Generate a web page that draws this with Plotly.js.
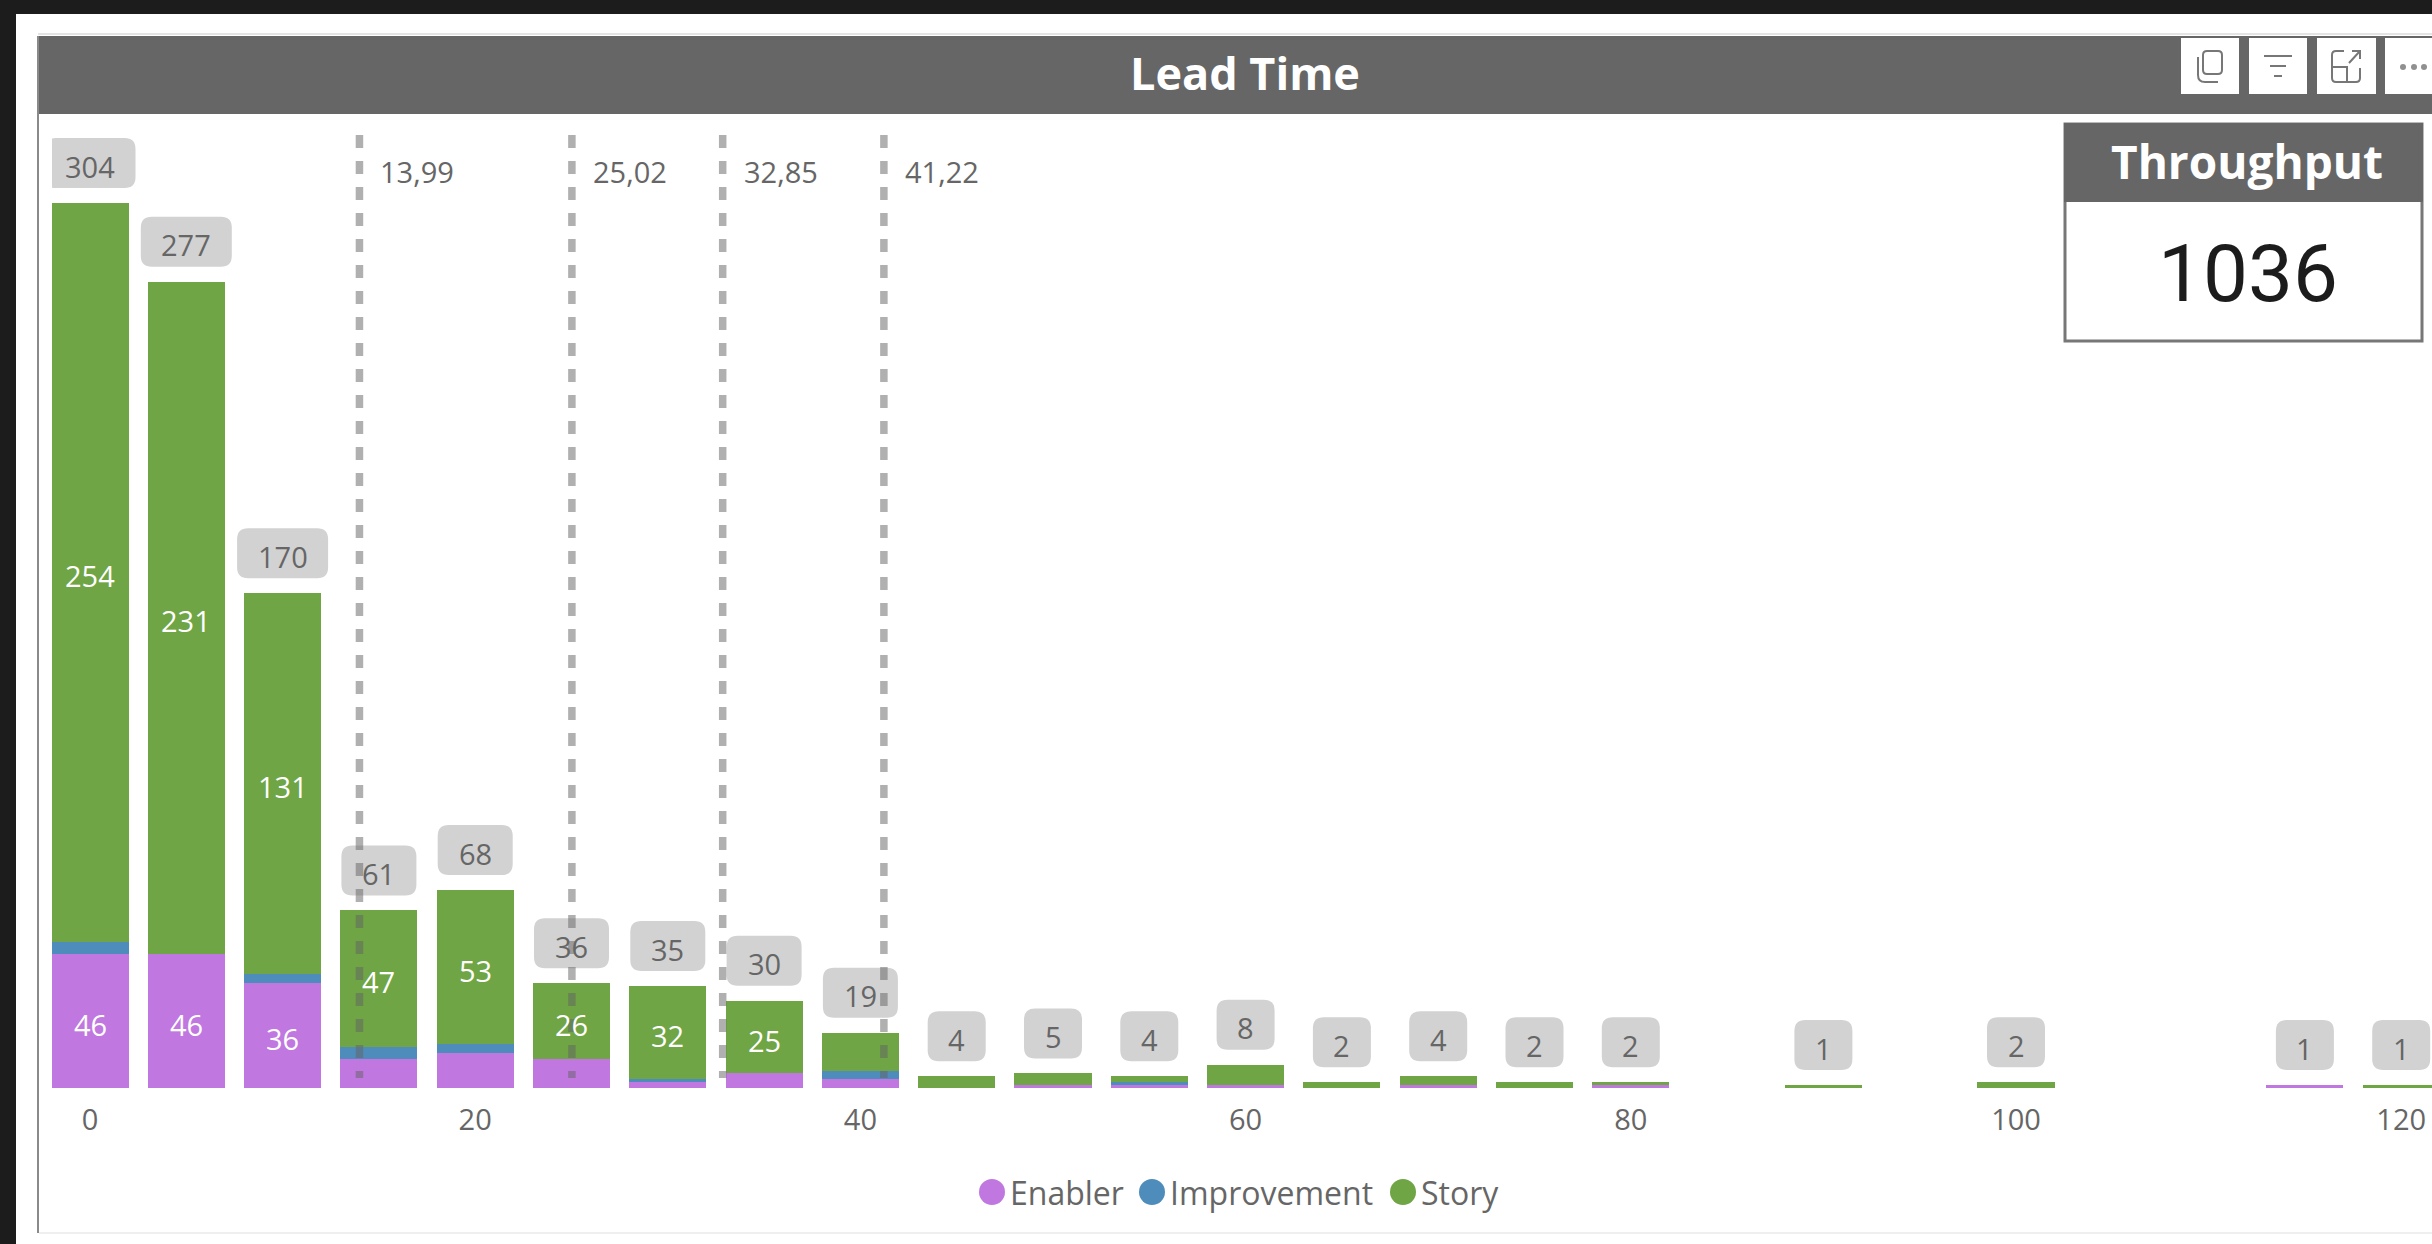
<!DOCTYPE html>
<html><head><meta charset="utf-8">
<script src="https://cdn.plot.ly/plotly-3.0.1.min.js"></script>
<style>html,body{margin:0;padding:0;background:#fff;overflow:hidden}#c{width:2432px;height:1244px}</style>
</head><body><div id="c"></div>
<script>
const bins = [0,5,10,15,20,25,30,35,40,45,50,55,60,65,70,75,80,90,100,115,120];
const enabler =     [46,46,36,10,12,10,2,5,3,0,1,1,1,0,1,0,1,0,0,1,0];
const improvement = [4,0,3,4,3,0,1,0,3,0,0,1,0,0,0,0,0,0,0,0,0];
const story =       [254,231,131,47,53,26,32,25,13,4,4,2,7,2,3,2,1,1,2,0,1];
const totals =      [304,277,170,61,68,36,35,30,19,4,5,4,8,2,4,2,2,1,2,1,1];
const percentiles = [13.99,25.02,32.85,41.22];
const percentileLabels = ["13,99","25,02","32,85","41,22"];
const seriesNames = ["Enabler","Improvement","Story"];
const seriesColors = ["#C077E0","#4E8DBB","#6FA544"];
const xTicks = [0,20,40,60,80,100,120];

const W=2432,H=1244,L=52,R=W,T=114,B=1088;
const pxPerX=19.26, pxPerY=2.911, x0px=90;
const xRange=[(L-x0px)/pxPerX,(R-x0px)/pxPerX], yRange=[0,(B-T)/pxPerY];
const fx=x=>(x-L)/(R-L), fy=y=>(B-y)/(B-T);
const FONT='"Open Sans", sans-serif', GREY='#666666';

const rect=(x0,y0,x1,y1,fill,line,lw)=>({type:'rect',xref:'paper',yref:'paper',layer:'above',
  x0:fx(x0),x1:fx(x1),y0:fy(y0),y1:fy(y1),fillcolor:fill,line:{color:line||fill,width:lw||0}});
const icon=(cx,cy,path,color,w,fill)=>({type:'path',xref:'paper',yref:'paper',layer:'above',
  xsizemode:'pixel',ysizemode:'pixel',xanchor:fx(cx),yanchor:fy(cy),path,
  fillcolor:fill||'rgba(0,0,0,0)',line:{color:color||'#777',width:w===undefined?2:w}});
const rr=(x0,y0,x1,y1,r)=>`M${x0+r},${y0} L${x1-r},${y0} Q${x1},${y0} ${x1},${y0+r} L${x1},${y1-r} Q${x1},${y1} ${x1-r},${y1} L${x0+r},${y1} Q${x0},${y1} ${x0},${y1-r} L${x0},${y0+r} Q${x0},${y0} ${x0+r},${y0} Z`;

const barTrace=(i,vals)=>({type:'bar',name:seriesNames[i],x:bins,y:vals,width:4,offset:-2,
  marker:{color:seriesColors[i],line:{width:0}},showlegend:false,hoverinfo:'skip'});

const lineTraces=percentiles.map(p=>({type:'scatter',mode:'lines',x:[p,p],y:[327.4,3.4],showlegend:false,hoverinfo:'skip',
  line:{color:'rgba(100,100,100,0.51)',width:7.5,dash:'13px,13px'}}));

const data=[barTrace(0,enabler),barTrace(1,improvement),barTrace(2,story),...lineTraces];

// segment value labels, placed at the middle of their stacked segment
const segLabels=[];
bins.forEach((b,i)=>{
  if(enabler[i]>=36) segLabels.push({v:enabler[i],x:b,y:enabler[i]/2});
  if(story[i]>=25) segLabels.push({v:story[i],x:b,y:enabler[i]+improvement[i]+story[i]/2});
});
const segAnn=segLabels.map(s=>({x:s.x,y:s.y,xref:'x',yref:'y',yshift:-3,text:String(s.v),showarrow:false,
  xanchor:'center',yanchor:'middle',font:{family:FONT,size:29,color:'#FFFFFF'}}));

// value boxes: rounded, sized in pixels, anchored on each bar's total
const boxShapes=bins.map((b,i)=>{
  const len=String(totals[i]).length, hw=len===3?45.5:(len===2?37.5:29);
  return {type:'path',xref:'x',yref:'y',layer:'below',xsizemode:'pixel',ysizemode:'pixel',
    xanchor:b,yanchor:totals[i],path:rr(-hw,15,hw,65,11),fillcolor:'#D2D2D2',line:{width:0}};
});
const boxLabels=bins.map((b,i)=>({x:b,y:totals[i],xref:'x',yref:'y',yshift:37,text:String(totals[i]),showarrow:false,
  xanchor:'center',yanchor:'middle',font:{family:FONT,size:29,color:GREY}}));
const pctLabels=percentiles.map((p,i)=>({x:p,y:315,xref:'x',yref:'y',xshift:19,text:percentileLabels[i],showarrow:false,
  xanchor:'left',yanchor:'middle',font:{family:FONT,size:29,color:GREY}}));

const legX=[992,1152,1403];
const legendShapes=seriesNames.map((n,i)=>({type:'circle',xref:'paper',yref:'paper',layer:'above',xsizemode:'pixel',ysizemode:'pixel',
  xanchor:fx(legX[i]),yanchor:fy(1192),x0:-13,x1:13,y0:-13,y1:13,fillcolor:seriesColors[i],line:{width:0}}));
const legendLabels=seriesNames.map((n,i)=>({xref:'paper',yref:'paper',x:fx(legX[i]+16),y:fy(1192),text:n,showarrow:false,
  xanchor:'left',yanchor:'middle',font:{family:FONT,size:32,color:GREY}}));

const chrome=[
  rect(0,0,W,14,'#1C1C1C'), rect(0,0,16,H,'#1C1C1C'),
  rect(38,33,W,35,'#E4E4E4'),
  rect(38,36,W,114,'#666666'),
  rect(37,36,39,1233,'#8A8A8A'),
  rect(39,1232,W,1234,'#EFEFEF'),
  rect(2181,38,2239,94,'#FFFFFF'), rect(2249,38,2307,94,'#FFFFFF'),
  rect(2317,38,2376,94,'#FFFFFF'), rect(2385,38,W,94,'#FFFFFF'),
  // visual-header icons
  icon(2210,66,rr(-7,-8,12,15,4)),
  icon(2210,66,'M-12,9 L-12,-9 Q-12,-16 -5,-16 L8,-16'),
  icon(2278,66,'M-14,10 L14,10 M-8,0 L8,0 M-4,-10 L4,-10'),
  icon(2346,66,'M-2,15 L-10,15 Q-14,15 -14,11 L-14,-12 Q-14,-16 -10,-16 L10,-16 Q14,-16 14,-12 L14,-2 M-14,-1 L1,-1 L1,-16 M3,3 L14,15 M6,15 L14,15 L14,7'),
  ...[2403,2414,2424].map(x=>({type:'circle',xref:'paper',yref:'paper',layer:'above',xsizemode:'pixel',ysizemode:'pixel',
     xanchor:fx(x),yanchor:fy(67),x0:-3,x1:3,y0:-3,y1:3,fillcolor:'#909090',line:{width:0}})),
  // Throughput card
  rect(2065,124,2422,341,'#FFFFFF','#777777',3),
  rect(2064,123,2423,202,'#666666'),
];

const annotations=[
  {xref:'paper',yref:'paper',x:fx(1245),y:fy(73),text:'<b>Lead Time</b>',showarrow:false,xanchor:'center',yanchor:'middle',
   font:{family:FONT,size:45,color:'#FFFFFF'}},
  {xref:'paper',yref:'paper',x:fx(2247),y:fy(161),text:'<b>Throughput</b>',showarrow:false,xanchor:'center',yanchor:'middle',
   font:{family:FONT,size:46,color:'#FFFFFF'}},
  {xref:'paper',yref:'paper',x:fx(2248),y:fy(274),text:'1036',showarrow:false,xanchor:'center',yanchor:'middle',
   font:{family:'Roboto, sans-serif',size:80,color:'#1C1C1C'}},
  ...segAnn,...boxLabels,...pctLabels,...legendLabels
];

const layout={width:W,height:H,margin:{l:L,r:W-R,t:T,b:H-B,pad:0},
  paper_bgcolor:'#FFFFFF',plot_bgcolor:'rgba(0,0,0,0)',barmode:'stack',showlegend:false,
  font:{family:FONT,color:GREY},
  xaxis:{range:xRange,tickvals:xTicks,ticktext:xTicks.map(String),showgrid:false,zeroline:false,showline:false,
    ticks:'outside',ticklen:6,tickcolor:'rgba(0,0,0,0)',tickfont:{family:FONT,size:29,color:GREY}},
  yaxis:{range:yRange,visible:false,showgrid:false,zeroline:false},
  shapes:[...boxShapes,...chrome,...legendShapes],annotations};
Plotly.newPlot('c',data,layout,{displayModeBar:false,staticPlot:true});
</script></body></html>
